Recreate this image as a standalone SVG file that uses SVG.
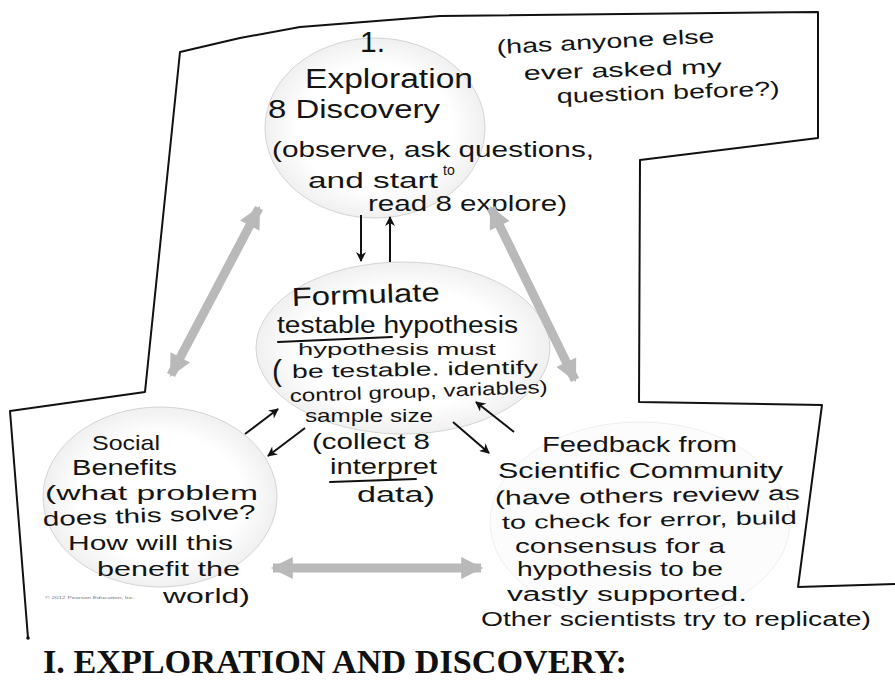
<svg xmlns="http://www.w3.org/2000/svg" width="895" height="681" viewBox="0 0 895 681">
<defs>
<radialGradient id="bub" cx="50%" cy="50%" r="50%">
<stop offset="0.7" stop-color="#ffffff"/>
<stop offset="1" stop-color="#f0f0f0"/>
</radialGradient>
<marker id="gh" viewBox="0 0 10 10" refX="9" refY="5" markerWidth="24" markerHeight="22" markerUnits="userSpaceOnUse" orient="auto-start-reverse">
<path d="M0,0 L10,5 L0,10 Z" fill="#b9b9b9"/>
</marker>
<marker id="bh" viewBox="0 0 10 10" refX="9" refY="5" markerWidth="11" markerHeight="10" markerUnits="userSpaceOnUse" orient="auto">
<path d="M0,0 L10,5 L0,10 L3,5 Z" fill="#111"/>
</marker>
</defs>
<style>
.bubble{fill:url(#bub);stroke:#d4d4d4;stroke-width:1}
.hand{font-family:"Liberation Sans","DejaVu Sans",sans-serif;fill:#141414}
.big{stroke:#b9b9b9;stroke-width:9;fill:none}
.thin{stroke:#111;stroke-width:2;fill:none}
.ink{stroke:#111;stroke-width:2;fill:none;stroke-linecap:round}
</style>
<rect width="895" height="681" fill="#ffffff"/>

<g id="frame">
<polyline class="ink" stroke-linejoin="round" stroke-width="2.5" points="28,638 10,411 145,392 180,52 240,38 300,27 440,16 818,12 818,138 640,160 639,402 822,405 798,587 895,584"/>
<circle cx="28" cy="638" r="1.8" fill="#111"/>
</g>

<g id="n-exploration">
<ellipse class="bubble" cx="375" cy="128" rx="110" ry="90"/>
<text class="hand" x="360" y="52" font-size="30">1.</text>
<text class="hand" x="305" y="88" font-size="27" textLength="168" lengthAdjust="spacingAndGlyphs">Exploration</text>
<text class="hand" x="268" y="118" font-size="26" textLength="172" lengthAdjust="spacingAndGlyphs">8 Discovery</text>
<text class="hand" x="272" y="157" font-size="22" textLength="322" lengthAdjust="spacingAndGlyphs">(observe, ask questions,</text>
<text class="hand" x="308" y="188" font-size="22" textLength="130" lengthAdjust="spacingAndGlyphs">and start</text>
<text class="hand" x="443" y="175" font-size="14">to</text>
<text class="hand" x="368" y="211" font-size="22" textLength="199" lengthAdjust="spacingAndGlyphs">read 8 explore)</text>
</g>

<g id="n-question">
<text class="hand" x="497" y="54" font-size="20" textLength="218" lengthAdjust="spacingAndGlyphs" transform="rotate(-3 497 54)">(has anyone else</text>
<text class="hand" x="524" y="80" font-size="20" textLength="198" lengthAdjust="spacingAndGlyphs" transform="rotate(-2 524 80)">ever asked my</text>
<text class="hand" x="557" y="103" font-size="20" textLength="223" lengthAdjust="spacingAndGlyphs" transform="rotate(-2 557 103)">question before?)</text>
</g>

<g id="n-hypothesis">
<ellipse class="bubble" cx="403" cy="348" rx="147" ry="86"/>
<text class="hand" x="292" y="306" font-size="26" textLength="148" lengthAdjust="spacingAndGlyphs" transform="rotate(-2 292 306)">Formulate</text>
<text class="hand" x="277" y="333" font-size="23" textLength="241" lengthAdjust="spacingAndGlyphs">testable hypothesis</text>
<line class="ink" x1="278" y1="342" x2="392" y2="337"/>
<text class="hand" x="272" y="381" font-size="30">(</text>
<text class="hand" x="298" y="355" font-size="17" textLength="198" lengthAdjust="spacingAndGlyphs">hypothesis must</text>
<text class="hand" x="292" y="378" font-size="19" textLength="246" lengthAdjust="spacingAndGlyphs" transform="rotate(-1 292 378)">be testable. identify</text>
<text class="hand" x="290" y="402" font-size="18" textLength="258" lengthAdjust="spacingAndGlyphs" transform="rotate(-2 290 402)">control group, variables)</text>
<text class="hand" x="305" y="422" font-size="19" textLength="128" lengthAdjust="spacingAndGlyphs">sample size</text>
<text class="hand" x="312" y="449" font-size="22" textLength="118" lengthAdjust="spacingAndGlyphs">(collect 8</text>
<text class="hand" x="330" y="474" font-size="22" textLength="107" lengthAdjust="spacingAndGlyphs">interpret</text>
<line class="ink" x1="330" y1="482" x2="416" y2="479"/>
<text class="hand" x="357" y="502" font-size="22" textLength="78" lengthAdjust="spacingAndGlyphs">data)</text>
</g>

<g id="n-social">
<ellipse class="bubble" cx="160" cy="497" rx="117" ry="90"/>
<text class="hand" x="92" y="450" font-size="21" textLength="68" lengthAdjust="spacingAndGlyphs">Social</text>
<text class="hand" x="72" y="475" font-size="22" textLength="105" lengthAdjust="spacingAndGlyphs">Benefits</text>
<text class="hand" x="45" y="500" font-size="21" textLength="213" lengthAdjust="spacingAndGlyphs">(what problem</text>
<text class="hand" x="43" y="526" font-size="20" textLength="213" lengthAdjust="spacingAndGlyphs" transform="rotate(-2 43 526)">does this solve?</text>
<text class="hand" x="68" y="550" font-size="20" textLength="165" lengthAdjust="spacingAndGlyphs">How will this</text>
<text class="hand" x="97" y="576" font-size="21" textLength="143" lengthAdjust="spacingAndGlyphs">benefit the</text>
<text class="hand" x="163" y="603" font-size="21" textLength="87" lengthAdjust="spacingAndGlyphs">world)</text>
<text x="45" y="599" font-family="Liberation Sans,sans-serif" font-size="4" fill="#777" textLength="90" lengthAdjust="spacingAndGlyphs">© 2012 Pearson Education, Inc.</text>
</g>

<g id="n-feedback">
<ellipse cx="640" cy="522" rx="150" ry="100" fill="#fcfcfc" stroke="#efefef" stroke-width="1"/>
<text class="hand" x="542" y="452" font-size="22" textLength="195" lengthAdjust="spacingAndGlyphs">Feedback from</text>
<text class="hand" x="498" y="478" font-size="22" textLength="285" lengthAdjust="spacingAndGlyphs">Scientific Community</text>
<text class="hand" x="495" y="505" font-size="20" textLength="305" lengthAdjust="spacingAndGlyphs" transform="rotate(-1 495 505)">(have others review as</text>
<text class="hand" x="502" y="529" font-size="19" textLength="295" lengthAdjust="spacingAndGlyphs" transform="rotate(-1 502 529)">to check for error, build</text>
<text class="hand" x="515" y="553" font-size="20" textLength="210" lengthAdjust="spacingAndGlyphs">consensus for a</text>
<text class="hand" x="517" y="576" font-size="20" textLength="206" lengthAdjust="spacingAndGlyphs">hypothesis to be</text>
<text class="hand" x="507" y="601" font-size="20" textLength="240" lengthAdjust="spacingAndGlyphs">vastly supported.</text>
<text class="hand" x="481" y="626" font-size="20" textLength="390" lengthAdjust="spacingAndGlyphs">Other scientists try to replicate)</text>
</g>

<g id="connectors">
<line class="big" x1="259" y1="208" x2="171" y2="375" marker-start="url(#gh)" marker-end="url(#gh)"/>
<line class="big" x1="491" y1="208" x2="575" y2="380" marker-start="url(#gh)" marker-end="url(#gh)"/>
<line class="big" x1="273" y1="568" x2="481" y2="568" marker-start="url(#gh)" marker-end="url(#gh)"/>
<line class="thin" x1="361" y1="215" x2="361" y2="261" marker-end="url(#bh)"/>
<line class="thin" x1="390" y1="262" x2="390" y2="217" marker-end="url(#bh)"/>
<line class="thin" x1="245" y1="434" x2="278" y2="409" marker-end="url(#bh)"/>
<line class="thin" x1="305" y1="428" x2="268" y2="456" marker-end="url(#bh)"/>
<line class="thin" x1="453" y1="422" x2="489" y2="453" marker-end="url(#bh)"/>
<line class="thin" x1="514" y1="432" x2="476" y2="402" marker-end="url(#bh)"/>
</g>

<text x="43" y="673" font-family="Liberation Serif,serif" font-weight="bold" font-size="33" fill="#111" textLength="584" lengthAdjust="spacingAndGlyphs">I. EXPLORATION AND DISCOVERY:</text>
</svg>
